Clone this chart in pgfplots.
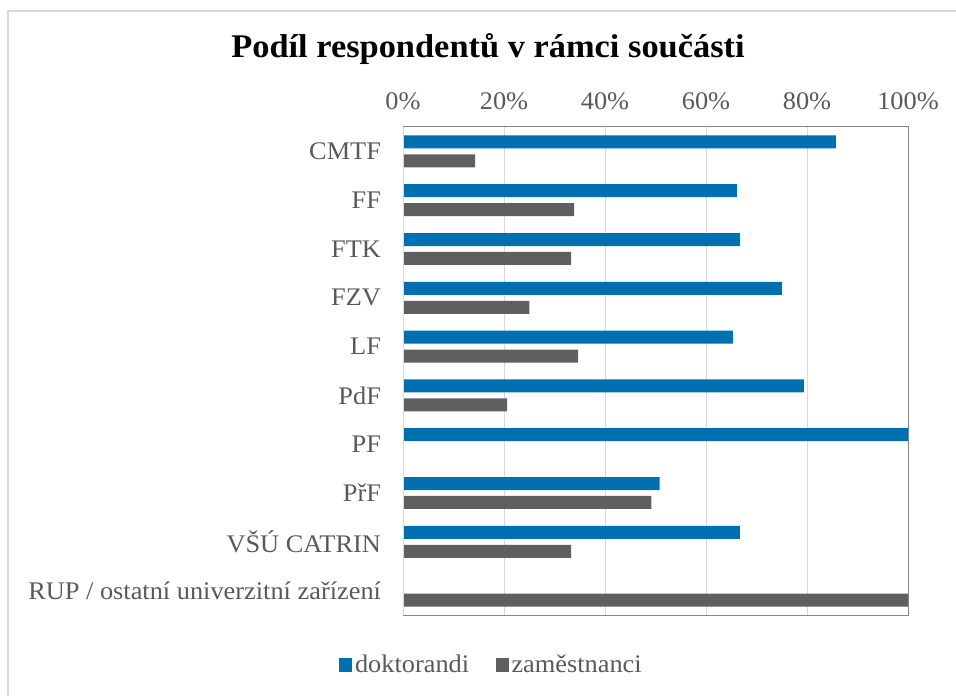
\documentclass[border=0pt]{standalone}
\usepackage{fontspec}
\setmainfont{Liberation Serif}[FakeStretch=1.04]
\usepackage{pgfplots}
\pgfplotsset{compat=1.18}
\definecolor{doktor}{RGB}{0,112,176}
\definecolor{zam}{RGB}{95,95,95}
\definecolor{txt}{RGB}{89,89,89}
\definecolor{gridc}{RGB}{217,217,217}
\definecolor{framec}{RGB}{134,134,134}

\begin{document}
\begin{tikzpicture}[x=0.75pt,y=0.75pt]
\useasboundingbox (0,0) rectangle (956,696);
\draw[gridc, line width=1.6pt] (8,0) -- (8,685) -- (956,685);
\node[font=\bfseries\fontsize{24.8}{30}\selectfont] at (488,647) {Podíl respondentů v rámci součásti};
\begin{axis}[
  at={(302.25pt,60.75pt)}, anchor=south west,
  width=378.75pt, height=366pt, scale only axis,
  xbar, bar width=9.75pt,
  xmin=0, xmax=100, ymin=-0.5, ymax=9.5,
  xtick={0,20,...,100},
  xticklabel={\pgfmathprintnumber{\tick}\%},
  /pgf/number format/assume math mode=true,
  xticklabel pos=upper,
  ytick={0,...,9},
  yticklabels={RUP / ostatní univerzitní zařízení, VŠÚ CATRIN, PřF, PF, PdF, LF, FZV, FTK, FF, CMTF},
  major tick length=0,
  xmajorgrids, grid style={gridc, line width=0.75pt},
  axis line style={framec, line width=0.75pt},
  tick label style={font=\fontsize{19}{23}\selectfont, text=txt},
  xticklabel style={yshift=9pt},
  yticklabel style={xshift=-13pt},
  legend style={at={(0.176,-0.1025)}, anchor=center, draw=none,
    font=\fontsize{19}{23}\selectfont, text=txt, legend columns=2,
    /tikz/every even column/.append style={column sep=18pt}},
  legend image code/.code={\fill[#1] (0pt,-4.9pt) rectangle (9.75pt,4.9pt);},
]
\addplot[fill=doktor, draw=none, bar shift=7.1pt] coordinates {
  (85.7,9) (66.1,8) (66.7,7) (75.0,6) (65.3,5) (79.4,4) (100,3) (50.8,2) (66.7,1) (0,0)
};
\addlegendentry{doktorandi}
\addplot[fill=zam, draw=none, bar shift=-7.1pt] coordinates {
  (14.3,9) (33.9,8) (33.3,7) (25.0,6) (34.7,5) (20.6,4) (0,3) (49.2,2) (33.3,1) (100,0)
};
\addlegendentry{zaměstnanci}
\draw[gridc, line width=1.5pt] (axis cs:0,-0.5) -- (axis cs:0,9.5);
\end{axis}
\end{tikzpicture}
\end{document}
